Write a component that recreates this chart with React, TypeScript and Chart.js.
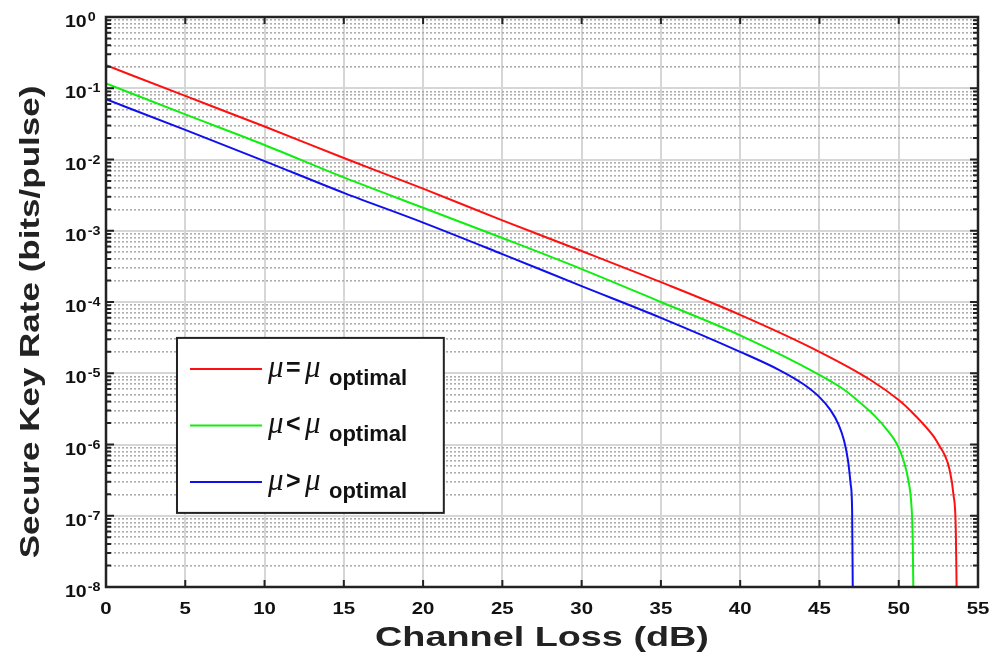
import React, { useEffect, useRef } from 'react';
import { Chart, registerables } from 'chart.js';

Chart.register(...registerables);

// ---------- data ----------
const seriesLabels = ['μ=μoptimal', 'μ<μoptimal', 'μ>μoptimal'];
const seriesRelations = ['=', '<', '>'];
const seriesColors = ['#ff1010', '#10ee10', '#1010ee'];

const lossOptimal = [0, 5, 10, 15, 20, 25, 30, 35, 40, 45, 48.2, 50, 50.9, 52.2, 52.6, 52.9, 53.2, 53.45, 53.6, 53.65];
const rateOptimal = [0.21, 0.078, 0.029, 0.0105, 0.0039, 0.0014, 5.2e-4, 1.9e-4, 6.6e-5, 2.0e-5, 8.1e-6, 4.2e-6, 2.75e-6, 1.3e-6, 9.3e-7, 7.1e-7, 4.5e-7, 2.0e-7, 6.3e-8, 1e-8];

const lossLower = [0, 5, 10, 15, 20, 25, 30, 35, 40, 45, 46.5, 47.6, 48.5, 49.25, 49.9, 50.3, 50.6, 50.8, 50.88, 50.92];
const rateLower = [0.117, 0.043, 0.016, 0.0056, 0.0021, 7.9e-4, 2.9e-4, 1.0e-4, 3.4e-5, 9.5e-6, 6.0e-6, 3.8e-6, 2.5e-6, 1.62e-6, 1.0e-6, 6.0e-7, 3.2e-7, 1.4e-7, 5e-8, 1e-8];

const lossHigher = [0, 5, 10, 15, 20, 25, 30, 35, 40, 42.5, 44, 45, 45.7, 46.2, 46.55, 46.8, 46.97, 47.06, 47.1];
const rateHigher = [0.07, 0.026, 0.0095, 0.0034, 0.0013, 4.7e-4, 1.67e-4, 6.0e-5, 2.0e-5, 1.1e-5, 7.0e-6, 4.62e-6, 3.04e-6, 1.92e-6, 1.14e-6, 6.0e-7, 2.75e-7, 1.2e-7, 1e-8];

const xTickValues = [0, 5, 10, 15, 20, 25, 30, 35, 40, 45, 50, 55];
const yExponents = [0, -1, -2, -3, -4, -5, -6, -7, -8];
const yMinorMultipliers = [2, 3, 4, 5, 6, 7, 8, 9];

const xTitle = 'Channel Loss (dB)';
const yTitle = 'Secure Key Rate (bits/pulse)';
const subscriptText = 'optimal';

const SANS = '"Liberation Sans", Arial, Helvetica, sans-serif';
const SERIF = '"Liberation Serif", "Times New Roman", serif';

function buildYTicks() {
  const ticks: { value: number; major: boolean }[] = [];
  for (let i = yExponents.length - 1; i >= 0; i--) {
    const e = yExponents[i];
    ticks.push({ value: Math.pow(10, e), major: true });
    if (e < 0) {
      yMinorMultipliers.forEach((m) => ticks.push({ value: m * Math.pow(10, e), major: false }));
    }
  }
  return ticks;
}

function isDecade(v: number) {
  const l = Math.log10(v);
  return Math.abs(l - Math.round(l)) < 1e-6;
}

function drawText(ctx: any, text: string, x: number, y: number, font: string, sx: number, angle: number, align: string) {
  ctx.save();
  ctx.translate(x, y);
  ctx.rotate(angle);
  ctx.scale(sx, 1);
  ctx.font = font;
  ctx.textAlign = align;
  ctx.textBaseline = 'alphabetic';
  ctx.fillText(text, 0, 0);
  ctx.restore();
}

const decorPlugin = {
  id: 'decor',
  afterDatasetsDraw(chart: any) {
    const { ctx, chartArea: ca, scales } = chart;
    const xs = scales.x;
    const ys = scales.y;
    ctx.save();
    // inward ticks
    ctx.strokeStyle = '#222';
    ctx.lineWidth = 2;
    xTickValues.forEach((v) => {
      const px = xs.getPixelForValue(v);
      ctx.beginPath();
      ctx.moveTo(px, ca.bottom);
      ctx.lineTo(px, ca.bottom - 7);
      ctx.moveTo(px, ca.top);
      ctx.lineTo(px, ca.top + 7);
      ctx.stroke();
    });
    buildYTicks().forEach((t) => {
      const py = ys.getPixelForValue(t.value);
      const len = t.major ? 8 : 5;
      ctx.beginPath();
      ctx.moveTo(ca.left, py);
      ctx.lineTo(ca.left + len, py);
      ctx.moveTo(ca.right, py);
      ctx.lineTo(ca.right - len, py);
      ctx.stroke();
    });
    // box
    ctx.lineWidth = 2.5;
    ctx.strokeStyle = '#222';
    ctx.strokeRect(ca.left, ca.top, ca.right - ca.left, ca.bottom - ca.top);

    // x tick labels
    ctx.fillStyle = '#111';
    xTickValues.forEach((v) => {
      const px = xs.getPixelForValue(v);
      drawText(ctx, String(v), px, ca.bottom + 27, `bold 17px ${SANS}`, 1.2, 0, 'center');
    });

    // y tick labels 10^e
    yExponents.forEach((e) => {
      const py = ys.getPixelForValue(Math.pow(10, e));
      const x0 = ca.left - 41;
      drawText(ctx, '10', x0, py + 10, `bold 17px ${SANS}`, 1.15, 0, 'left');
      ctx.font = `bold 17px ${SANS}`;
      const w = ctx.measureText('10').width * 1.15;
      drawText(ctx, String(e), x0 + w + 1, py + 4, `bold 13px ${SANS}`, 1.1, 0, 'left');
    });

    // axis titles
    ctx.fillStyle = '#222';
    drawText(ctx, xTitle, (ca.left + ca.right) / 2, ca.bottom + 59, `bold 28px ${SANS}`, 1.35, 0, 'center');
    drawText(ctx, yTitle, 39, (ca.top + ca.bottom) / 2 + 20, `bold 28px ${SANS}`, 1.25, -Math.PI / 2, 'center');

    // legend
    const W = ca.right - ca.left;
    const H = ca.bottom - ca.top;
    const bx = ca.left + 0.0814 * W;
    const by = ca.top + 0.563 * H;
    const bw = 0.306 * W;
    const bh = 0.307 * H;
    ctx.fillStyle = '#fff';
    ctx.fillRect(bx, by, bw, bh);
    ctx.lineWidth = 2;
    ctx.strokeStyle = '#222';
    ctx.strokeRect(bx, by, bw, bh);
    chart.data.datasets.forEach((ds: any, i: number) => {
      const ly = by + 31 + i * 56.5;
      ctx.strokeStyle = ds.borderColor;
      ctx.lineWidth = 2;
      ctx.beginPath();
      ctx.moveTo(bx + 13, ly);
      ctx.lineTo(bx + 85, ly);
      ctx.stroke();
      ctx.fillStyle = '#111';
      ctx.textBaseline = 'alphabetic';
      ctx.textAlign = 'left';
      ctx.font = `italic 31px ${SERIF}`;
      ctx.fillText('μ', bx + 91, ly + 8);
      ctx.font = `bold 25px ${SANS}`;
      ctx.fillText(seriesRelations[i], bx + 109, ly + 7);
      ctx.font = `italic 31px ${SERIF}`;
      ctx.fillText('μ', bx + 128, ly + 8);
      ctx.font = `bold 22px ${SANS}`;
      ctx.fillText(subscriptText, bx + 152, ly + 16);
    });
    ctx.restore();
  },
};

export default function App() {
  const canvasRef = useRef<HTMLCanvasElement | null>(null);

  useEffect(() => {
    if (!canvasRef.current) return;
    const mk = (xs: number[], ys: number[]) => xs.map((x, i) => ({ x, y: ys[i] }));
    const seriesX = [lossOptimal, lossLower, lossHigher];
    const seriesY = [rateOptimal, rateLower, rateHigher];
    const chart = new Chart(canvasRef.current, {
      type: 'line',
      data: {
        datasets: seriesLabels.map((label, i) => ({
          label,
          data: mk(seriesX[i], seriesY[i]),
          borderColor: seriesColors[i],
          backgroundColor: seriesColors[i],
          borderWidth: 2,
          pointRadius: 0,
          cubicInterpolationMode: 'monotone' as const,
          fill: false,
        })),
      },
      options: {
        animation: false,
        responsive: false,
        layout: { padding: { left: 0, top: 17, right: 12, bottom: 0 } },
        plugins: {
          legend: { display: false },
          tooltip: { enabled: false },
        },
        scales: {
          x: {
            type: 'linear',
            min: 0,
            max: 55,
            afterBuildTicks: (scale: any) => {
              scale.ticks = xTickValues.map((v) => ({ value: v }));
            },
            afterFit: (scale: any) => {
              scale.height = 73;
              scale.paddingLeft = 0;
              scale.paddingRight = 0;
            },
            ticks: { display: false },
            grid: { color: '#d6d6d6', lineWidth: 2, drawTicks: false },
            border: { display: false },
            title: { display: false, text: xTitle },
          },
          y: {
            type: 'logarithmic',
            min: 1e-8,
            max: 1,
            afterBuildTicks: (scale: any) => {
              scale.ticks = buildYTicks().map((t) => ({ value: t.value, major: t.major }));
            },
            afterFit: (scale: any) => {
              scale.width = 106;
              scale.paddingTop = 0;
              scale.paddingBottom = 0;
            },
            ticks: { display: false },
            grid: {
              drawTicks: false,
              color: (c: any) => (c.tick && isDecade(c.tick.value) ? '#d6d6d6' : '#adadad'),
              lineWidth: (c: any) => (c.tick && isDecade(c.tick.value) ? 2 : 1.6),
            },
            border: {
              display: false,
              dash: (c: any) => (c.tick && !isDecade(c.tick.value) ? [2, 2] : []),
            },
            title: { display: false, text: yTitle },
          },
        },
      },
      plugins: [decorPlugin],
    } as any);
    return () => chart.destroy();
  }, []);

  return (
    <div style={{ position: 'fixed', left: 0, top: 0, width: 990, height: 660, background: '#fff' }}>
      <canvas ref={canvasRef} width={990} height={660} />
    </div>
  );
}
